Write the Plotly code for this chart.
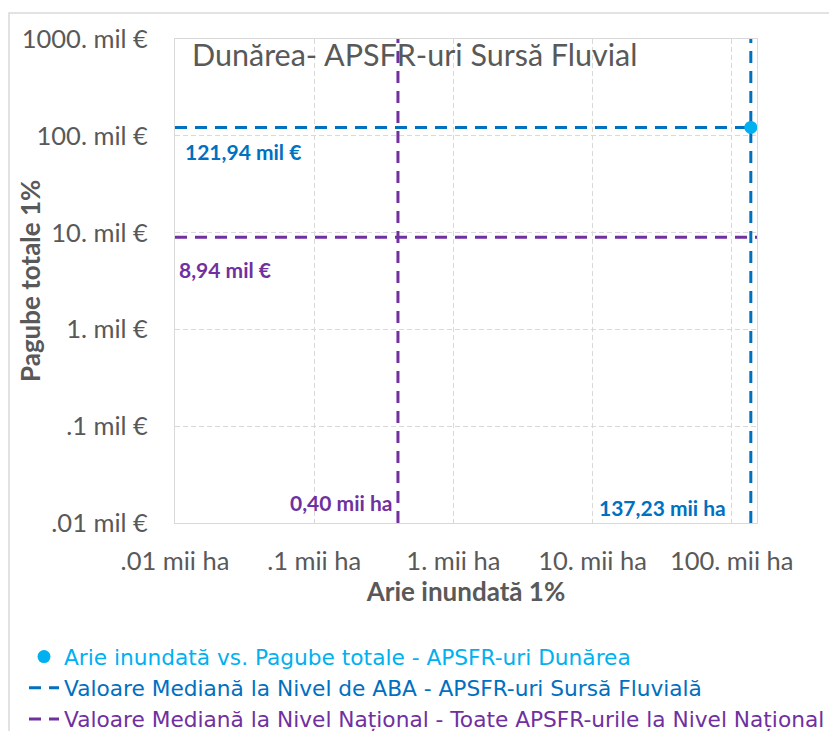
import math
import plotly.graph_objects as go

# ---- data ----
point_area = [137.23]          # mii ha
point_damage = [121.94]        # mil €
aba_median_area = 137.23
aba_median_damage = 121.94
nat_median_area = 0.40
nat_median_damage = 8.94

x_tickvals = [0.01, 0.1, 1, 10, 100]
x_ticktext = [".01 mii ha", ".1 mii ha", "1. mii ha", "10. mii ha", "100. mii ha"]
y_tickvals = [0.01, 0.1, 1, 10, 100, 1000]
y_ticktext = [".01 mil €", ".1 mil €", "1. mil €", "10. mil €", "100. mil €", "1000. mil €"]

X_MIN, X_MAX = 0.01, 152
Y_MIN, Y_MAX = 0.01, 1000

label_aba_damage = "121,94 mil €"
label_nat_damage = "8,94 mil €"
label_nat_area = "0,40 mii ha"
label_aba_area = "137,23 mii ha"

name_points = "Arie inundată vs. Pagube totale - APSFR-uri Dunărea"
name_aba = "Valoare Mediană la Nivel de ABA - APSFR-uri Sursă Fluvială"
name_nat = "Valoare Mediană la Nivel Național - Toate APSFR-urile la Nivel Național"

C_POINT = "#00B0F0"
C_ABA = "#0070C0"
C_NAT = "#7030A0"
GRAY = "#595959"
GRID = "#D9D9D9"
FONT = "Lato"

W, H = 829, 723
ML, MR, MT, MB = 167, 80, 31, 208
PW, PH = W - ML - MR, H - MT - MB

fig = go.Figure()

fig.add_trace(go.Scatter(
    x=[X_MIN, X_MAX, None, aba_median_area, aba_median_area],
    y=[aba_median_damage, aba_median_damage, None, Y_MIN, Y_MAX],
    mode="lines", line=dict(color=C_ABA, width=3, dash="12px,8px"),
    name=f"<span style='color:{C_ABA}'>{name_aba}</span>", legendrank=2,
    hoverinfo="skip"))
fig.add_trace(go.Scatter(
    x=[X_MIN, X_MAX, None, nat_median_area, nat_median_area],
    y=[nat_median_damage, nat_median_damage, None, Y_MIN, Y_MAX],
    mode="lines", line=dict(color=C_NAT, width=3, dash="12px,8px"),
    name=f"<span style='color:{C_NAT}'>{name_nat}</span>", legendrank=3,
    hoverinfo="skip"))
fig.add_trace(go.Scatter(
    x=point_area, y=point_damage, mode="markers",
    marker=dict(color=C_POINT, size=13),
    name=f"<span style='color:{C_POINT}'>{name_points}</span>", legendrank=1))

axis_common = dict(
    type="log", showgrid=True, gridcolor=GRID, griddash="5px,3px", gridwidth=1,
    showline=True, mirror=True, linecolor=GRID, linewidth=1,
    ticks="outside", tickcolor="rgba(0,0,0,0)",
    tickfont=dict(family=FONT, size=25.5, color=GRAY),
)

fig.update_layout(
    width=W, height=H,
    margin=dict(l=ML, r=MR, t=MT, b=MB, autoexpand=False),
    paper_bgcolor="white", plot_bgcolor="white",
    showlegend=True,
    title=dict(text="Dunărea- APSFR-uri Sursă Fluvial", xref="container", yref="container",
               x=184/W, xanchor="left", y=1-47/H, yanchor="middle",
               font=dict(family=FONT, size=30.5, color=GRAY)),
    xaxis=dict(axis_common, range=[math.log10(X_MIN), math.log10(X_MAX)],
               tickvals=x_tickvals, ticktext=x_ticktext, ticklen=15,
               title=dict(text="Arie inundată 1%", standoff=9,
                          font=dict(family=FONT, size=26, color=GRAY, weight="bold"))),
    yaxis=dict(axis_common, range=[math.log10(Y_MIN), math.log10(Y_MAX)],
               tickvals=y_tickvals, ticktext=y_ticktext, ticklen=21),
    legend=dict(xref="container", yref="container", x=16/W, y=1-628/H,
                xanchor="left", yanchor="top", bgcolor="rgba(0,0,0,0)",
                font=dict(family="DejaVu Sans", size=21.7), tracegroupgap=0),
)

# y-axis title
fig.add_annotation(text="Pagube totale 1%", xref="paper", yref="paper", x=(22-ML)/PW, y=0.5,
                   xanchor="center", yanchor="middle",
                   textangle=-90, showarrow=False,
                   font=dict(family=FONT, size=26, color=GRAY, weight="bold"))

lab_font = dict(family=FONT, size=21, weight="bold")
fig.add_annotation(text=label_aba_damage, xref="paper", yref="y", x=0,
                   y=math.log10(aba_median_damage), xanchor="left", yanchor="middle",
                   xshift=8, yshift=-24, showarrow=False, font=dict(lab_font, color=C_ABA))
fig.add_annotation(text=label_nat_damage, xref="paper", yref="y", x=0,
                   y=math.log10(nat_median_damage), xanchor="left", yanchor="middle",
                   xshift=0, yshift=-32, showarrow=False, bgcolor="white", borderpad=3,
                   font=dict(lab_font, color=C_NAT))
fig.add_annotation(text=label_nat_area, xref="x", yref="paper",
                   x=math.log10(nat_median_area), y=0, xanchor="right", yanchor="middle",
                   xshift=-4, yshift=21, showarrow=False, font=dict(lab_font, color=C_NAT))
fig.add_annotation(text=label_aba_area, xref="x", yref="paper",
                   x=math.log10(aba_median_area), y=0, xanchor="right", yanchor="middle",
                   xshift=-23, yshift=16, showarrow=False, font=dict(lab_font, color=C_ABA))

# outer chart border
fig.add_shape(type="rect", xref="paper", yref="paper",
              x0=(1-ML)/PW, x1=(900-ML)/PW, y0=(PH+MT-800)/PH, y1=(PH+MT-5)/PH,
              line=dict(color=GRID, width=1.5), fillcolor="rgba(0,0,0,0)", layer="below")

fig.write_html("out.html")
